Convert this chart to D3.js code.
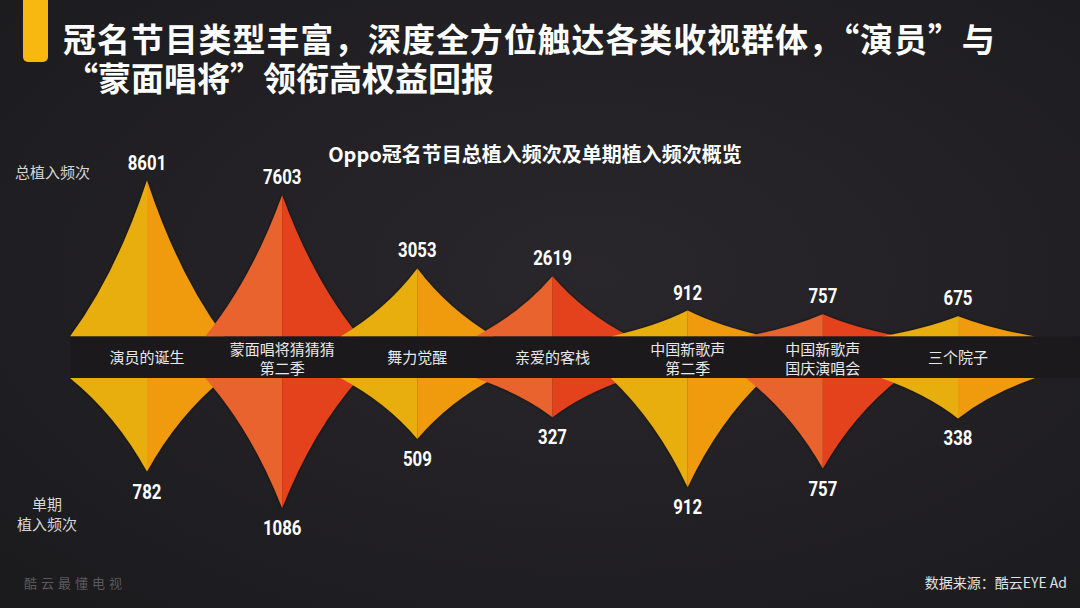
<!DOCTYPE html>
<html>
<head>
<meta charset="utf-8">
<script src="https://cdn.jsdelivr.net/npm/d3@7/dist/d3.min.js"></script>
<style>
  html, body { margin: 0; padding: 0; background: #1e1d21; }
  svg { display: block; }
</style>
</head>
<body>
<div id="chart"></div>
<script>
// data
var programs = [
    ["演员的诞生"],
    ["蒙面唱将猜猜猜", "第二季"],
    ["舞力觉醒"],
    ["亲爱的客栈"],
    ["中国新歌声", "第二季"],
    ["中国新歌声", "国庆演唱会"],
    ["三个院子"]
];
var totalFreq = [8601, 7603, 3053, 2619, 912, 757, 675];
var episodeFreq = [782, 1086, 509, 327, 912, 757, 338];

var width = 1080,
    height = 608,
    baseTop = 336.5,
    bandBottom = 378,
    halfW = 77,
    cjk = "'Noto Sans CJK SC', 'Noto Sans', sans-serif",
    numFont = "'Roboto', 'Liberation Sans', sans-serif";

var svg = d3.select("#chart").append("svg")
    .attr("width", width)
    .attr("height", height);

var defs = svg.append("defs");
var bg = defs.append("radialGradient")
    .attr("id", "bg")
    .attr("cx", "55%").attr("cy", "45%").attr("r", "75%");
bg.append("stop").attr("offset", "0%").attr("stop-color", "#29272b");
bg.append("stop").attr("offset", "100%").attr("stop-color", "#1b1a1d");

var shadow = defs.append("filter")
    .attr("id", "shadow")
    .attr("x", "-20%").attr("y", "-20%").attr("width", "140%").attr("height", "140%");
shadow.append("feDropShadow")
    .attr("dx", 0).attr("dy", 0)
    .attr("stdDeviation", 1.6)
    .attr("flood-color", "#000")
    .attr("flood-opacity", 0.7);

svg.append("rect")
    .attr("width", width).attr("height", height)
    .attr("fill", "url(#bg)");

// left accent bar
svg.append("rect")
    .attr("x", 23).attr("y", -8)
    .attr("width", 25).attr("height", 70)
    .attr("rx", 5)
    .attr("fill", "#f8b80f");

var titleStyle = function(t) {
    return t.style("font-family", cjk)
        .style("font-weight", "bold")
        .style("font-size", "33px")
        .attr("fill", "#ffffff");
};
titleStyle(svg.append("text"))
    .attr("x", 63).attr("y", 52)
    .style("letter-spacing", "0.9px")
    .text("冠名节目类型丰富，深度全方位触达各类收视群体，“演员”与");
titleStyle(svg.append("text"))
    .attr("x", 65).attr("y", 91)
    .text("“蒙面唱将”领衔高权益回报");

svg.append("text")
    .attr("x", 535).attr("y", 162)
    .attr("text-anchor", "middle")
    .style("font-family", cjk)
    .style("font-weight", "bold")
    .style("font-size", "20px")
    .attr("fill", "#ffffff")
    .text("Oppo冠名节目总植入频次及单期植入频次概览");

// scales
var x = d3.scalePoint()
    .domain(d3.range(programs.length))
    .range([147, 958]);

var yTop = d3.scalePow().exponent(0.8)
    .domain([0, d3.max(totalFreq)])
    .range([0, 156]);

var yBottom = d3.scaleLinear()
    .domain([0, d3.max(episodeFreq)])
    .range([0, 130]);

var colors = [
    ["#e8ae0d", "#f09b0a"],
    ["#e8632d", "#e4431a"]
];

// half spike: dir -1 left / +1 right, sign -1 up / +1 down
function halfSpike(cx, base, h, dir, sign) {
    var p = d3.path();
    p.moveTo(cx, base);
    p.lineTo(cx + dir * halfW, base);
    p.quadraticCurveTo(cx + dir * halfW * 0.4, base + sign * h * 0.4, cx, base + sign * h);
    p.closePath();
    return p.toString();
}

var shapes = svg.append("g").attr("filter", "url(#shadow)");

programs.forEach(function(d, i) {
    var cx = x(i),
        c = colors[i % 2],
        ht = yTop(totalFreq[i]),
        hb = yBottom(episodeFreq[i]);
    var g = shapes.append("g");
    g.append("path").attr("d", halfSpike(cx, baseTop, ht, -1, -1)).attr("fill", c[0]);
    g.append("path").attr("d", halfSpike(cx, baseTop, ht, 1, -1)).attr("fill", c[1]);
    g.append("path").attr("d", halfSpike(cx, bandBottom, hb, -1, 1)).attr("fill", c[0]);
    g.append("path").attr("d", halfSpike(cx, bandBottom, hb, 1, 1)).attr("fill", c[1]);
});

// dark band with the programme names
svg.append("rect")
    .attr("x", 70).attr("y", baseTop)
    .attr("width", width - 70).attr("height", bandBottom - baseTop)
    .attr("fill", "#1b191c");

var names = svg.append("g")
    .selectAll("g")
    .data(programs)
    .enter()
    .append("g");

names.each(function(d, i) {
    var g = d3.select(this);
    var y0 = d.length === 1 ? 363 : 355;
    d.forEach(function(line, k) {
        g.append("text")
            .attr("x", x(i))
            .attr("y", y0 + k * 18.5)
            .attr("text-anchor", "middle")
            .style("font-family", cjk)
            .style("font-size", "15px")
            .attr("fill", "#e8e8e8")
            .text(line);
    });
});

// value labels, squeezed to look condensed
function numLabels(values, yOf) {
    svg.append("g")
        .selectAll("text")
        .data(values)
        .enter()
        .append("text")
        .attr("transform", function(d, i) {
            return "translate(" + x(i) + "," + yOf(d) + ") scale(0.8,1)";
        })
        .attr("text-anchor", "middle")
        .style("font-family", numFont)
        .style("font-weight", "bold")
        .style("font-size", "21px")
        .attr("fill", "#ffffff")
        .text(function(d) { return d; });
}
numLabels(totalFreq, function(d) { return baseTop - yTop(d) - 11; });
numLabels(episodeFreq, function(d) { return bandBottom + yBottom(d) + 27; });

// axis captions
svg.append("text")
    .attr("x", 15).attr("y", 178)
    .style("font-family", cjk)
    .style("font-size", "15px")
    .attr("fill", "#d6d6d6")
    .text("总植入频次");

["单期", "植入频次"].forEach(function(line, k) {
    svg.append("text")
        .attr("x", 47).attr("y", 510 + k * 20)
        .attr("text-anchor", "middle")
        .style("font-family", cjk)
        .style("font-size", "15px")
        .attr("fill", "#d6d6d6")
        .text(line);
});

// watermark and source
svg.append("text")
    .attr("x", 24).attr("y", 588)
    .style("font-family", cjk)
    .style("font-size", "13px")
    .style("letter-spacing", "4px")
    .attr("fill", "#5a5a5e")
    .text("酷云最懂电视");

svg.append("text")
    .attr("x", 1067).attr("y", 588)
    .attr("text-anchor", "end")
    .style("font-family", cjk)
    .style("font-size", "14px")
    .attr("fill", "#e2e2e2")
    .text("数据来源：酷云EYE Ad");
</script>
</body>
</html>
